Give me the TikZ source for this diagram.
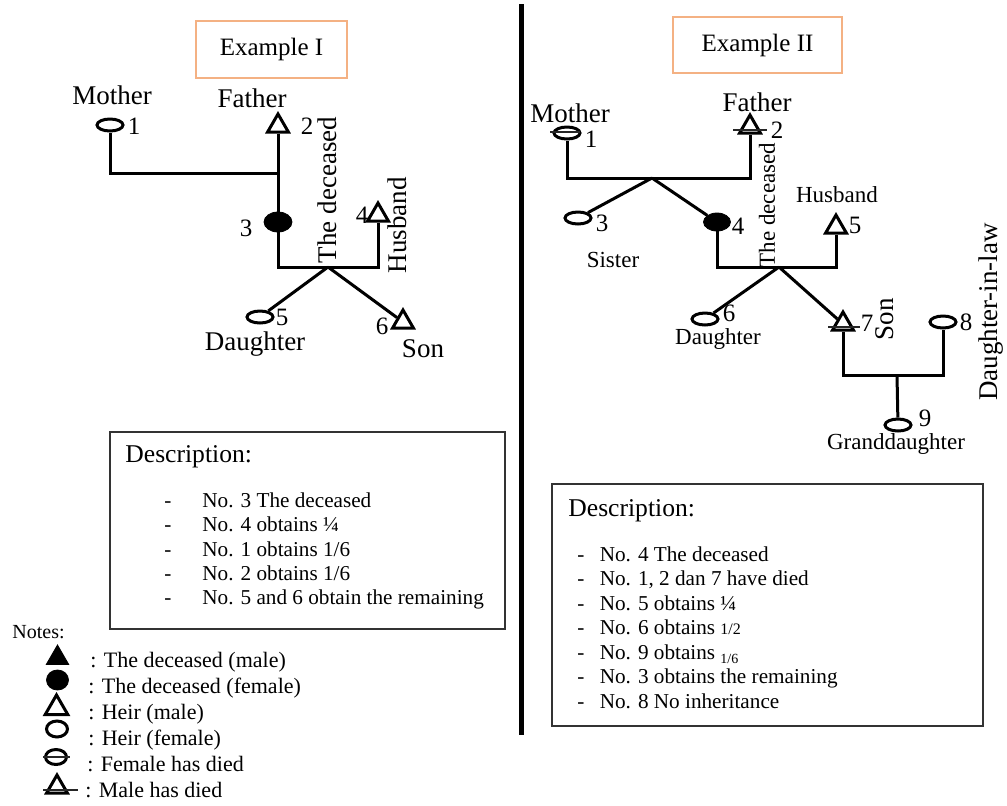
\documentclass[tikz,border=0pt]{standalone}
\usepackage{fontspec}
\setmainfont{Liberation Serif}
\usepackage{tikz}
\usetikzlibrary{shapes.geometric,positioning}

\definecolor{boxorange}{RGB}{244,177,131}

\tikzset{
    conn/.style={line width=1.5pt},
    bar/.style={line width=1pt, black!85},
    fem/.style={ellipse, draw, line width=1.5pt, minimum width=13pt, minimum height=6pt, inner sep=0pt},
    male/.style={regular polygon, regular polygon sides=3, draw, line width=1.5pt, minimum size=12pt, inner sep=0pt},
    dec/.style={ellipse, draw, fill, minimum width=14pt, minimum height=10pt, inner sep=0pt},
    decm/.style={regular polygon, regular polygon sides=3, draw, fill, minimum size=13pt, inner sep=0pt},
    titlebox/.style={draw=boxorange, line width=0.8pt, font=\fontsize{12.5}{15}\selectfont},
    descbox/.style={draw=black!80, line width=0.75pt},
    lbl/.style={inner sep=0pt, font=\fontsize{13.5}{16}\selectfont},
    lbls/.style={inner sep=0pt, font=\fontsize{11.5}{14}\selectfont},
    num/.style={inner sep=0pt, font=\fontsize{12.5}{15}\selectfont},
    head/.style={inner sep=0pt, anchor=base west, font=\fontsize{12.8}{15}\selectfont},
    item/.style={inner sep=0pt, anchor=base west, font=\fontsize{10.6}{13}\selectfont},
    note/.style={inner sep=0pt, anchor=base west, font=\fontsize{11}{13}\selectfont}
}

\begin{document}
\begin{tikzpicture}[x=0.5pt, y=-0.5pt]
\useasboundingbox (0,0) rectangle (1007,805);

% Example I
\node[titlebox, minimum width=75.5pt, minimum height=28.5pt] (tI) at (271.5,49.5) {Example I};
\node[lbl] (lmoth) at (112,95) {Mother};
\node[lbl] (lfath) at (252,98) {Father};
\node[fem] (a1) at (110,125) {};
\node[num] (na1) at (134,126) {1};
\node[male] (a2) at (278,126) {};
\node[num] (na2) at (307,126) {2};
\node[dec] (a3) at (278,222) {};
\node[num] (na3) at (246,228) {3};
\node[male] (a4) at (378,215) {};
\node[num] (na4) at (362,215) {4};
\node[fem] (a5) at (260,317) {};
\node[num] (na5) at (282,317) {5};
\node[male] (a6) at (403,322) {};
\node[num] (na6) at (382,326) {6};
\node[lbl, rotate=90] (ldec) at (327,190) {The deceased};
\node[lbl, rotate=90] (lhus) at (397,225) {Husband};
\node[lbl] (ldau) at (255,344) {Daughter};
\node[lbl] (lson) at (423,349) {Son};

\coordinate (aj1) at (278,173);
\coordinate (aj2) at (328,267);
\coordinate (ac2) at (378,267);
\draw[conn] (a1) |- (aj1);
\draw[conn] (a2) -- (a3);
\draw[conn] (a3) |- (ac2) -- (a4);
\draw[conn] (aj2) -- (a5);
\draw[conn] (aj2) -- (a6);

% Description I
\node[descbox, minimum width=197.5pt, minimum height=98.5pt] (descI) at (307.5,530.5) {};
\node[head] (hI) at (125,462) {Description:};
\node[item] (dI1) at (164,507) {-};
\node[item] (dI2) at (164,531) {-};
\node[item] (dI3) at (164,556) {-};
\node[item] (dI4) at (164,580) {-};
\node[item] (dI5) at (164,604) {-};
\node[item] (iI1) at (202,507) {No. 3 The deceased};
\node[item] (iI2) at (202,531) {No. 4 obtains ¼};
\node[item] (iI3) at (202,556) {No. 1 obtains 1/6};
\node[item] (iI4) at (202,580) {No. 2 obtains 1/6};
\node[item] (iI5) at (202,604) {No. 5 and 6 obtain the remaining};

% divider
\coordinate (dtop) at (521,4);
\coordinate (dbot) at (521,735);
\draw[line width=2.5pt] (dtop) -- (dbot);

% Example II
\node[titlebox, minimum width=84.5pt, minimum height=28pt] (tII) at (757.5,45) {Example II};
\node[lbl] (rmoth) at (570,113) {Mother};
\node[lbl] (rfath) at (757,102) {Father};
\node[fem] (b1) at (567,133) {};
\node[num] (nb1) at (591,139) {1};
\node[male] (b2) at (750,127) {};
\node[num] (nb2) at (777,130) {2};
\node[fem] (b3) at (578,218) {};
\node[num] (nb3) at (602,223) {3};
\node[lbls] (rsis) at (613,260) {Sister};
\node[dec, minimum width=13.5pt, minimum height=9pt] (b4) at (717,222) {};
\node[num] (nb4) at (738,226) {4};
\node[lbls] (rhus) at (837,195) {Husband};
\node[male] (b5) at (836,227) {};
\node[num] (nb5) at (855,225) {5};
\node[lbls, rotate=90] (rdec) at (767,205) {The deceased};
\node[fem] (b6) at (705,319) {};
\node[num] (nb6) at (729,313) {6};
\node[lbls] (rdau) at (718,339) {Daughter};
\node[male] (b7) at (843,324) {};
\node[num] (nb7) at (867,323) {7};
\node[lbl, rotate=90] (rson) at (885,319) {Son};
\node[fem] (b8) at (943,322) {};
\node[num] (nb8) at (966,322) {8};
\node[lbl, rotate=90] (rdil) at (991,312) {Daughter-in-law};
\node[fem] (b9) at (898,425) {};
\node[num] (nb9) at (925,418) {9};
\node[lbls] (rgd) at (896,444) {Granddaughter};

\coordinate (bc1) at (750,178);
\coordinate (bj1) at (652,178);
\coordinate (bc2) at (836,267);
\coordinate (bj2) at (779,267);
\coordinate (bj3) at (897,375);
\draw[conn] (b1) |- (bc1) -- (b2);
\draw[conn] (bj1) -- (b3);
\draw[conn] (bj1) -- (b4);
\draw[conn] (b4) |- (bc2) -- (b5);
\draw[conn] (bj2) -- (b6);
\draw[conn] (bj2) -- (b7);
\draw[conn] (b7) |- (bj3) -| (b8);
\draw[conn] (bj3) -- (b9);
% crossbars for those who have died
\draw[bar] ([shift={(-17,-1)}]b1.center) -- ([shift={(13,-1)}]b1.center);
\draw[bar] ([shift={(-17,3)}]b2.center) -- ([shift={(17,3)}]b2.center);
\draw[bar] ([shift={(-15,3)}]b7.center) -- ([shift={(17,3)}]b7.center);

% Description II
\node[descbox, minimum width=215.5pt, minimum height=121pt] (descII) at (767.5,605) {};
\node[head] (hII) at (568,516) {Description:};
\node[item] (iII1) at (577,561) {-\hspace{5pt} No. 4 The deceased};
\node[item] (iII2) at (577,585.5) {-\hspace{5pt} No. 1, 2 dan 7 have died};
\node[item] (iII3) at (577,610) {-\hspace{5pt} No. 5 obtains ¼};
\node[item] (iII4) at (577,634.5) {-\hspace{5pt} No. 6 obtains {\fontsize{8}{9}\selectfont 1/2}};
\node[item] (iII5) at (577,659) {-\hspace{5pt} No. 9 obtains \raisebox{-2pt}{\fontsize{7}{8}\selectfont 1/6}};
\node[item] (iII6) at (577,683.5) {-\hspace{5pt} No. 3 obtains the remaining};
\node[item] (iII7) at (577,708) {-\hspace{5pt} No. 8 No inheritance};

% Notes
\node[inner sep=0pt, anchor=base west, font=\fontsize{10}{12}\selectfont] (notes) at (12,638) {Notes:};
\node[decm] (g1) at (57.5,658) {};
\node[note] (gt1) at (90,667) {: The deceased (male)};
\node[dec, minimum width=11pt, minimum height=10pt] (g2) at (57.5,680) {};
\node[note] (gt2) at (88,693) {: The deceased (female)};
\node[male, minimum size=13pt] (g3) at (56.5,708) {};
\node[note] (gt3) at (88,719) {: Heir (male)};
\node[fem, minimum width=10.5pt, minimum height=8pt] (g4) at (57,729) {};
\node[note] (gt4) at (88,745) {: Heir (female)};
\node[fem, minimum width=10.5pt, minimum height=7.5pt] (g5) at (56,757) {};
\draw[bar] ([shift={(-13,0)}]g5.center) -- ([shift={(14,0)}]g5.center);
\node[note] (gt5) at (87,771) {: Female has died};
\node[male] (g6) at (57,787) {};
\draw[bar] ([shift={(-14,3)}]g6.center) -- ([shift={(21,3)}]g6.center);
\node[note] (gt6) at (85,797) {: Male has died};
\end{tikzpicture}
\end{document}
